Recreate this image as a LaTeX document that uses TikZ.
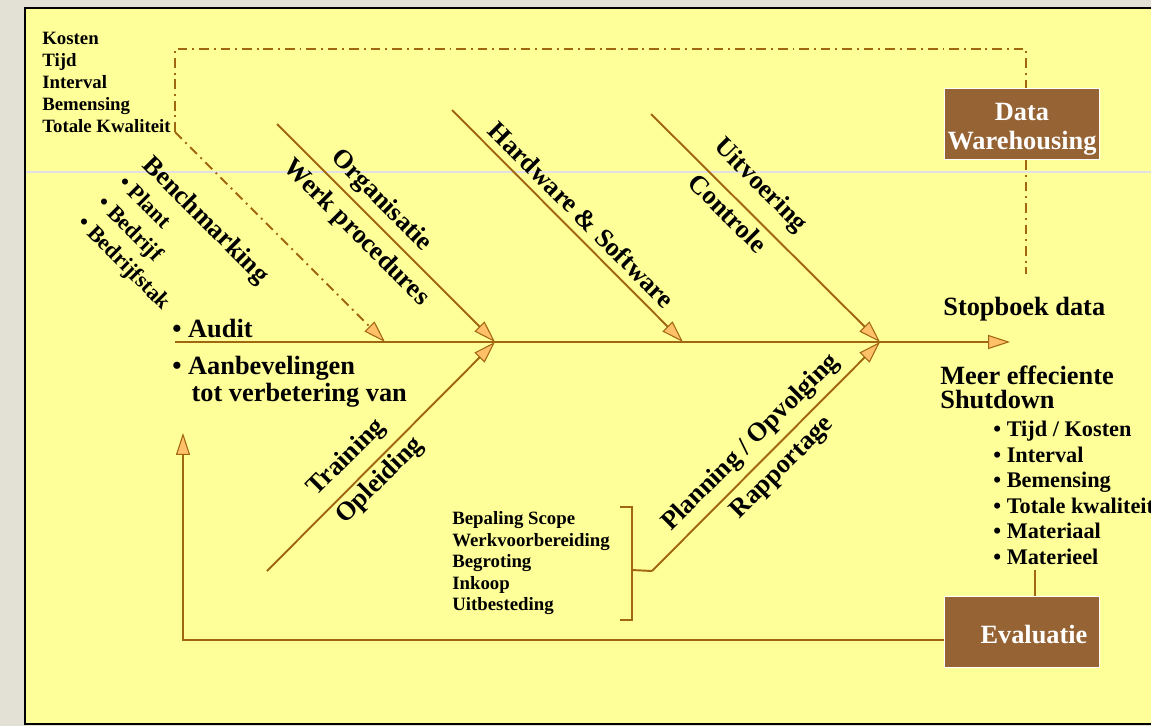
\documentclass[tikz,border=0pt]{standalone}
\usepackage{fontspec}
\setmainfont{Liberation Serif}
\usetikzlibrary{arrows.meta}
\pgfdeclarelayer{bg}
\pgfsetlayers{bg,main}
\definecolor{outerbg}{RGB}{227,224,213}
\definecolor{panel}{RGB}{255,255,153}
\definecolor{bonecol}{RGB}{160,102,16}
\definecolor{tipfill}{RGB}{255,192,104}
\definecolor{boxfill}{RGB}{150,99,52}
\definecolor{seam}{RGB}{224,224,230}
\tikzset{
    every node/.style={inner sep=0pt, font=\bfseries}
}
\tikzset{
    smalltext/.style={font=\fontsize{10.7}{12.5}\selectfont\bfseries, align=left},
    midtext/.style={font=\fontsize{12.7}{14.5}\selectfont\bfseries, align=left},
    bigtext/.style={font=\fontsize{15}{17}\selectfont\bfseries},
    tipped/.style={-{Triangle[length=12.5pt, width=8pt, fill=tipfill, line width=0.6pt]}},
    boneline/.style={draw=bonecol, line width=1.1pt},
    bonearrow/.style={boneline, tipped},
    kpiline/.style={draw=bonecol, line width=1.1pt,
        dash pattern=on 5.5pt off 2.8pt on 1.1pt off 2.8pt},
    darkbox/.style={fill=boxfill, draw=white, line width=0.6pt,
        minimum width=3.1cm, minimum height=1.43cm},
    boxtext/.style={text=white, align=center,
        font=\fontsize{15}{16.5}\selectfont\bfseries}
}

\begin{document}
\begin{tikzpicture}[x=0.02cm, y=-0.02cm]
  \useasboundingbox (0,0) rectangle (1151,726);
  \begin{pgfonlayer}{bg}
    \fill[outerbg] (0,0) rectangle (1151,726);
    \fill[panel] (25,8) rectangle (1151,724);
    \draw[seam, line width=0.6pt] (26,172) -- (1151,172);
    \draw[black, line width=1.5pt] (1151,8) -- (25,8) -- (25,724) -- (1151,724);
  \end{pgfonlayer}

  % spine
  \coordinate (head) at (175,342);
  \coordinate (j1) at (385,342);
  \coordinate (j2) at (495,342);
  \coordinate (j3) at (683,342);
  \coordinate (j4) at (880,342);
  \coordinate (tail) at (1010,342);
  \draw[bonearrow] (head) -- (tail);

  % bones
  \coordinate (org) at (277,124);
  \coordinate (hw) at (452,110);
  \coordinate (uit) at (651,114);
  \coordinate (opl) at (267,571);
  \coordinate (plan) at (652,571);
  \draw[bonearrow] (org) -- (j2);
  \draw[bonearrow] (hw) -- (j3);
  \draw[bonearrow] (uit) -- (j4);
  \draw[bonearrow] (opl) -- (j2);
  \draw[bonearrow] (plan) -- (j4);

  % labels on the bones
  \node (bench) [bigtext, rotate=-45] at (205,221) {Benchmarking};
  \node (levels) [midtext, rotate=-45, anchor=north west,
      font=\fontsize{12.7}{16.3}\selectfont\bfseries] at (128,173)
      {\textbullet\ Plant\\\textbullet\ Bedrijf\\\textbullet\ Bedrijfstak};
  \node (orgT) [bigtext, rotate=-45] at (381,201) {Organisatie};
  \node (werkT) [bigtext, rotate=-45] at (356,233) {Werk procedures};
  \node (hwT) [bigtext, rotate=-45] at (582,215) {Hardware \& Software};
  \node (uitT) [bigtext, rotate=-45] at (760,186) {Uitvoering};
  \node (ctrlT) [bigtext, rotate=-45] at (728,213) {Controle};
  \node (trT) [bigtext, rotate=45] at (347,458) {Training};
  \node (oplT) [bigtext, rotate=45] at (380,481) {Opleiding};
  \node (planT) [bigtext, rotate=45] at (751,443) {Planning / Opvolging};
  \node (rapT) [bigtext, rotate=45] at (783,468) {Rapportage};

  % kpi feed and data warehousing
  \node (kpi) [smalltext, anchor=north west] at (42,31.5)
      {Kosten\\Tijd\\Interval\\Bemensing\\Totale Kwaliteit};
  \coordinate (kpiEnd) at (175,132);
  \coordinate (kpiTop) at (175,49);
  \node (dw) [darkbox] at (1022,124) {};
  \node (dwText) [boxtext] at ([yshift=-3pt]dw.center) {Data\\Warehousing};
  \coordinate (dwEnd) at (1026,274);
  \draw[kpiline] (kpiEnd) -- (kpiTop) -| (dwEnd |- dw.north);
  \draw[kpiline] (dw.south -| dwEnd) -- (dwEnd);
  \draw[kpiline, tipped] (kpiEnd) -- (j1);

  % head of the fish
  \node (audit) [bigtext, anchor=base west] at (172,337) {\textbullet\ Audit};
  \node (advice) [bigtext, align=left, anchor=north west,
      font=\fontsize{15}{15.3}\selectfont\bfseries] at (172,356)
      {\textbullet\ Aanbevelingen\\\hspace*{11pt}tot verbetering van};

  % scope bracket
  \node (scope) [smalltext, anchor=north west,
      font=\fontsize{10.7}{12.3}\selectfont\bfseries] at (452,511)
      {Bepaling Scope\\Werkvoorbereiding\\Begroting\\Inkoop\\Uitbesteding};
  \coordinate (brTop) at (620,507);
  \coordinate (brMid) at (632,570);
  \coordinate (brBot) at (620,620);
  \draw[boneline] (brTop) -| (brMid) |- (brBot);
  \draw[boneline] (brMid) -- (plan);

  % result
  \node (stop) [bigtext, anchor=base west] at (943,315) {Stopboek data};
  \node (goal) [bigtext, align=left, anchor=north west,
      font=\fontsize{15}{13.6}\selectfont\bfseries] at (940,366)
      {Meer effeciente\\Shutdown};
  \node (res) [midtext, anchor=north west] at (993,421)
      {\textbullet\ Tijd / Kosten\\\textbullet\ Interval\\\textbullet\ Bemensing\\
       \textbullet\ Totale kwaliteit\\\textbullet\ Materiaal\\\textbullet\ Materieel};

  % evaluation feedback
  \node (eval) [darkbox] at (1022,632) {};
  \node (evalText) [boxtext] at ([xshift=6.8pt, yshift=-1.2pt]eval.center) {Evaluatie};
  \coordinate (resFoot) at (1035,570);
  \draw[boneline] (resFoot) -- (eval.north -| resFoot);
  \coordinate (fbCorner) at (183,640);
  \coordinate (fbTip) at (183,433);
  \draw[bonearrow] (eval.west |- fbCorner) -- (fbCorner) -- (fbTip);
\end{tikzpicture}
\end{document}
